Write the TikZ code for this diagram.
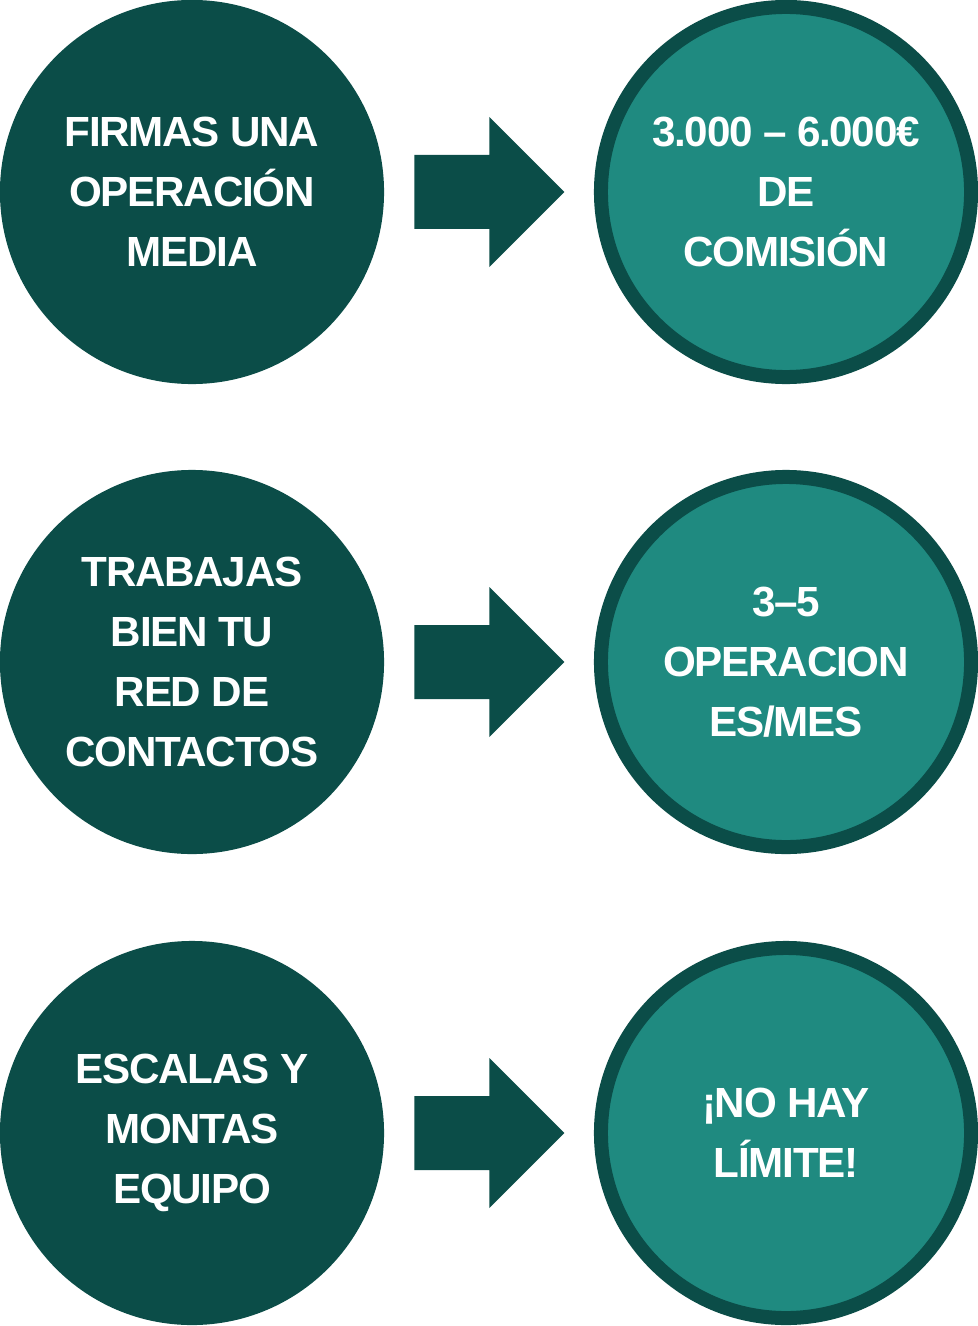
\documentclass[tikz,border=0pt]{standalone}
\usepackage{fontspec}
\setmainfont{Liberation Sans}[LetterSpace=-3]
\usepackage{tikz}
\usetikzlibrary{positioning}
\usetikzlibrary{calc}

\definecolor{darkgreen}{HTML}{0B4D48}
\definecolor{tealgreen}{HTML}{1F8A80}

% block arrow to the right of a circle
\newcommand{\blockarrow}[1]{%
  \fill[darkgreen] ($(#1.east)+(30,-37)$) -- ++(75,0) -- ++(0,-38) -- ++(75,75)
    -- ++(-75,75) -- ++(0,-38) -- ++(-75,0) -- cycle;}

\begin{document}
\begin{tikzpicture}[x=0.025cm,y=-0.025cm,
  stepnode/.style={circle,fill=darkgreen,minimum size=9.6cm,inner sep=0pt,
    text=white,align=center,font=\bfseries\fontsize{30}{42.7}\selectfont},
  resultnode/.style={stepnode,fill=tealgreen,draw=darkgreen,line width=0.35cm,
    minimum size=9.25cm}]
\fill[white] (0,0) rectangle (978,1326);
\useasboundingbox (0,0) rectangle (978,1326);

\node[stepnode] (firmas) at (192,192) {FIRMAS UNA\\OPERACIÓN\\MEDIA};
\node[resultnode] (comision) at (786,192) {3.000 – 6.000€\\DE\\COMISIÓN};

\node[stepnode] (trabajas) at (192,662) {TRABAJAS\\BIEN TU\\RED DE\\CONTACTOS};
\node[resultnode] (operaciones) at (786,662) {3–5\\OPERACION\\ES/MES};

\node[stepnode] (escalas) at (192,1133) {ESCALAS Y\\MONTAS\\EQUIPO};
\node[resultnode] (limite) at (786,1133) {¡NO HAY\\LÍMITE!};

\blockarrow{firmas}
\blockarrow{trabajas}
\blockarrow{escalas}
\end{tikzpicture}
\end{document}
